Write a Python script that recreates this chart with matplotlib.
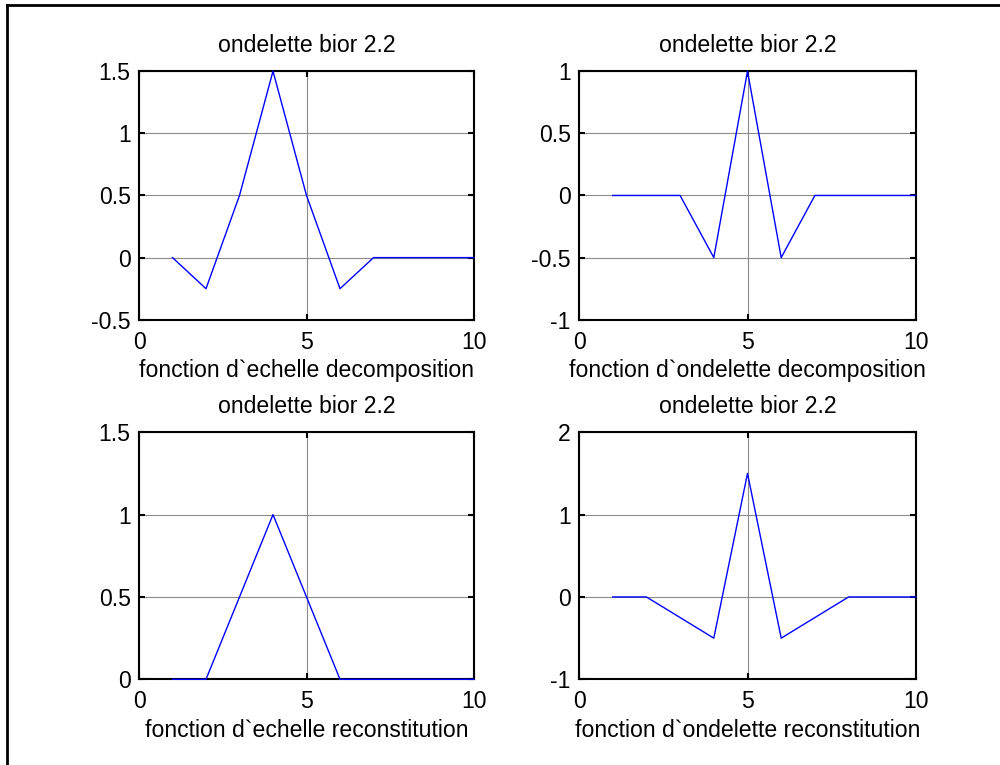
import numpy as np
import matplotlib
matplotlib.use('Agg')
import matplotlib.pyplot as plt
from matplotlib.lines import Line2D

plt.rcParams['font.family'] = ['Liberation Sans', 'DejaVu Sans']

# points 1..10
n = [1, 2, 3, 4, 5, 6, 7, 8, 9, 10]
phi_dec = [0, -0.25, 0.5, 1.5, 0.5, -0.25, 0, 0, 0, 0]
psi_dec = [0, 0, 0, -0.5, 1, -0.5, 0, 0, 0, 0]
phi_rec = [0, 0, 0.5, 1, 0.5, 0, 0, 0, 0, 0]
psi_rec = [0, 0, -0.25, -0.5, 1.5, -0.5, -0.25, 0, 0, 0]

titre = 'ondelette bior 2.2'
xlabels = ["fonction d`echelle decomposition", "fonction d`ondelette decomposition",
           "fonction d`echelle reconstitution", "fonction d`ondelette reconstitution"]
ylims = [(-0.5, 1.5), (-1, 1), (0, 1.5), (-1, 2)]
yticks = [[-0.5, 0, 0.5, 1, 1.5], [-1, -0.5, 0, 0.5, 1], [0, 0.5, 1, 1.5], [-1, 0, 1, 2]]
yticklabels = [['-0.5', '0', '0.5', '1', '1.5'], ['-1', '-0.5', '0', '0.5', '1'],
               ['0', '0.5', '1', '1.5'], ['-1', '0', '1', '2']]
series = [phi_dec, psi_dec, phi_rec, psi_rec]

fig = plt.figure(figsize=(10, 7.65), dpi=100)
positions = [[0.139, 0.582, 0.335, 0.325], [0.579, 0.582, 0.337, 0.325],
             [0.139, 0.112, 0.335, 0.323], [0.579, 0.112, 0.337, 0.323]]

fs = 16.6
for i in range(4):
    ax = fig.add_axes(positions[i])
    ax.plot(n, series[i], color='blue', linewidth=1, zorder=3, clip_on=False)
    ax.set_xlim(0, 10)
    ax.set_ylim(*ylims[i])
    ax.set_xticks([0, 5, 10])
    ax.set_xticklabels(['0', '5', '10'])
    ax.set_yticks(yticks[i])
    ax.set_yticklabels(yticklabels[i])
    ax.grid(True, color='#8c8c8c', linewidth=0.8)
    ax.tick_params(direction='in', top=True, right=True, length=4, width=1.5,
                   labelsize=fs)
    ax.tick_params(axis='x', pad=8)
    ax.tick_params(axis='y', pad=6)
    for s in ax.spines.values():
        s.set_linewidth(1.5)
    ax.set_title(titre, fontsize=fs, pad=13.5)
    ax.set_xlabel(xlabels[i], fontsize=fs, labelpad=4)

# cadre (haut et gauche seulement)
fig.add_artist(Line2D([0.007, 1.0], [0.9935, 0.9935], color='black', linewidth=2, transform=fig.transFigure))
fig.add_artist(Line2D([0.007, 0.007], [0.0, 0.9935], color='black', linewidth=2, transform=fig.transFigure))

plt.savefig('out.png')
